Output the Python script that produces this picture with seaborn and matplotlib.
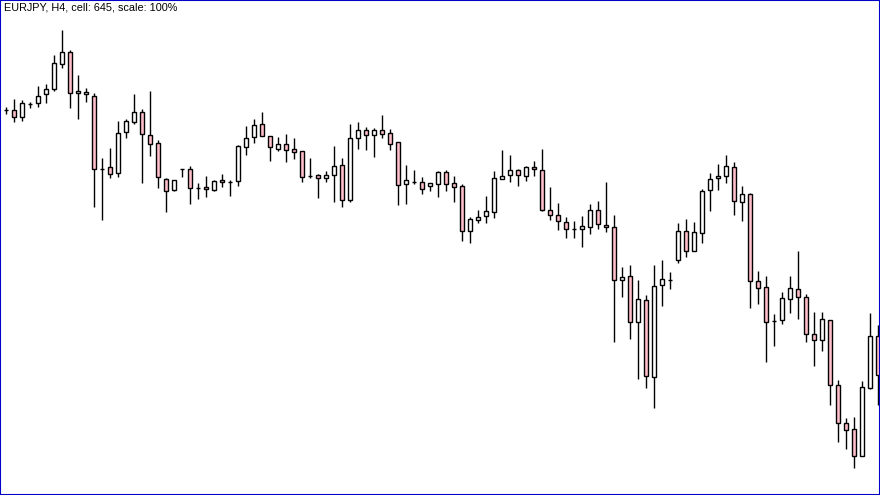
import numpy as np
import pandas as pd
import matplotlib
matplotlib.use('Agg')
import matplotlib.pyplot as plt
import seaborn as sns

# judul chart
judul = 'EURJPY, H4, cell: 645, scale: 100%'

# data OHLC
open_ = [129.90, 129.90, 129.83, 129.96, 129.97, 130.06, 130.11, 130.36, 130.48, 130.07,
         130.06, 130.04, 129.31, 129.33, 129.27, 129.68, 129.78, 129.88, 129.65, 129.57,
         129.21, 129.10, 129.31, 129.31, 129.12, 129.13, 129.10, 129.20, 129.18, 129.19,
         129.53, 129.63, 129.76, 129.64, 129.51, 129.56, 129.51, 129.49, 129.24, 129.25,
         129.22, 129.25, 129.35, 129.00, 129.62, 129.70, 129.65, 129.70, 129.67, 129.58,
         129.16, 129.18, 129.18, 129.14, 129.16, 129.28, 129.17, 129.14, 128.69, 128.80,
         128.84, 128.88, 129.21, 129.25, 129.30, 129.24, 129.33, 129.30, 128.90, 128.85,
         128.78, 128.71, 128.71, 128.73, 128.90, 128.75, 128.73, 128.20, 128.24, 127.78,
         128.00, 127.23, 128.15, 128.20, 128.40, 128.69, 128.49, 128.67, 129.10, 129.22,
         129.24, 129.33, 128.98, 129.06, 128.19, 128.13, 127.79, 127.80, 128.01, 128.11,
         128.03, 127.66, 127.60, 127.80, 127.15, 126.77, 126.71, 126.44, 127.12, 127.64]
high = [129.93, 130.01, 130.00, 129.98, 130.14, 130.16, 130.45, 130.70, 130.50, 130.25,
        130.12, 130.07, 129.42, 129.52, 129.79, 129.81, 130.06, 129.91, 130.09, 129.60,
        129.22, 129.20, 129.31, 129.34, 129.17, 129.24, 129.20, 129.26, 129.20, 129.55,
        129.74, 129.81, 129.88, 129.64, 129.63, 129.66, 129.62, 129.49, 129.42, 129.26,
        129.29, 129.54, 129.42, 129.76, 129.78, 129.73, 129.72, 129.85, 129.71, 129.58,
        129.35, 129.30, 129.23, 129.17, 129.29, 129.30, 129.24, 129.16, 128.83, 128.90,
        129.04, 129.29, 129.50, 129.45, 129.31, 129.34, 129.39, 129.51, 129.13, 128.97,
        128.83, 128.79, 128.84, 128.96, 128.99, 129.18, 128.85, 128.33, 128.35, 128.20,
        128.05, 128.35, 128.40, 128.28, 128.77, 128.81, 128.78, 129.11, 129.27, 129.36,
        129.45, 129.38, 129.14, 129.07, 128.29, 128.24, 127.86, 128.08, 128.24, 128.49,
        128.06, 127.88, 127.88, 127.80, 127.20, 126.82, 126.83, 127.19, 127.87, 127.75]
low = [129.86, 129.78, 129.79, 129.92, 129.93, 129.97, 130.09, 130.32, 129.92, 129.81,
       129.98, 128.93, 128.80, 129.22, 129.23, 129.62, 129.76, 129.17, 129.44, 129.12,
       128.88, 129.09, 129.23, 128.96, 129.01, 129.03, 129.09, 129.13, 129.04, 129.14,
       129.45, 129.57, 129.64, 129.39, 129.49, 129.38, 129.41, 129.18, 129.22, 129.02,
       129.18, 128.98, 128.93, 128.98, 129.51, 129.50, 129.43, 129.62, 129.50, 128.95,
       128.96, 129.16, 129.06, 129.09, 129.03, 129.09, 128.98, 128.59, 128.57, 128.77,
       128.77, 128.82, 129.21, 129.18, 129.14, 129.19, 129.24, 128.89, 128.80, 128.70,
       128.62, 128.62, 128.53, 128.66, 128.71, 128.68, 127.58, 128.03, 127.61, 127.21,
       127.12, 126.92, 127.94, 128.11, 128.37, 128.43, 128.49, 128.57, 128.89, 129.10,
       129.17, 128.85, 128.79, 127.92, 127.96, 127.38, 127.54, 127.76, 127.87, 127.81,
       127.58, 127.34, 127.49, 126.95, 126.58, 126.51, 126.32, 126.44, 127.11, 126.95]
close = [129.90, 129.83, 129.97, 129.96, 130.04, 130.11, 130.37, 130.48, 130.07, 130.09,
         130.08, 129.31, 129.31, 129.26, 129.67, 129.79, 129.88, 129.66, 129.56, 129.23,
         129.09, 129.20, 129.31, 129.12, 129.12, 129.11, 129.19, 129.18, 129.18, 129.54,
         129.62, 129.75, 129.64, 129.53, 129.56, 129.50, 129.48, 129.23, 129.24, 129.22,
         129.25, 129.34, 129.00, 129.62, 129.70, 129.65, 129.70, 129.66, 129.56, 129.15,
         129.20, 129.18, 129.11, 129.17, 129.28, 129.16, 129.13, 128.69, 128.81, 128.83,
         128.89, 129.22, 129.24, 129.30, 129.25, 129.33, 129.31, 128.90, 128.85, 128.79,
         128.71, 128.71, 128.74, 128.90, 128.76, 128.73, 128.20, 128.23, 127.78, 128.01,
         127.24, 128.14, 128.21, 128.20, 128.69, 128.49, 128.68, 129.09, 129.21, 129.24,
         129.34, 128.99, 129.06, 128.19, 128.12, 127.78, 127.79, 128.02, 128.12, 128.03,
         127.66, 127.60, 127.81, 127.15, 126.77, 126.70, 126.44, 127.13, 127.64, 127.25]

df = pd.DataFrame({'open': open_, 'high': high, 'low': low, 'close': close})
df['idx'] = np.arange(len(df))
df['turun'] = df['close'] < df['open']

sns.set_theme(style='white')
plt.rcParams['font.family'] = ['Liberation Sans', 'DejaVu Sans']

fig = plt.figure(figsize=(8.8, 4.95), dpi=100)
ax = fig.add_axes([0, 0, 1, 1])
ax.set_facecolor('white')

# sumbu (wick) dulu, lalu body di atasnya
ax.vlines(df['idx'], df['low'], df['high'], color='black', linewidth=1.0, zorder=1)
warna = np.where(df['turun'], '#FFC0CB', 'white')
ax.bar(df['idx'], df['close'] - df['open'], bottom=df['open'], width=0.55,
       color=warna, edgecolor='black', linewidth=1.0, zorder=2)

ax.set_xlim(-0.75, 109.25)
ax.set_ylim(126.05, 131.0)
ax.set_xticks([])
ax.set_yticks([])
for s in ax.spines.values():
    s.set_visible(True)
    s.set_color('#0000C8')
    s.set_linewidth(1.5)
ax.set_xlabel('')
ax.set_ylabel('')

fig.text(0.004, 0.995, judul, ha='left', va='top', fontsize=7.8, color='black')

fig.savefig('out.png', dpi=100)
